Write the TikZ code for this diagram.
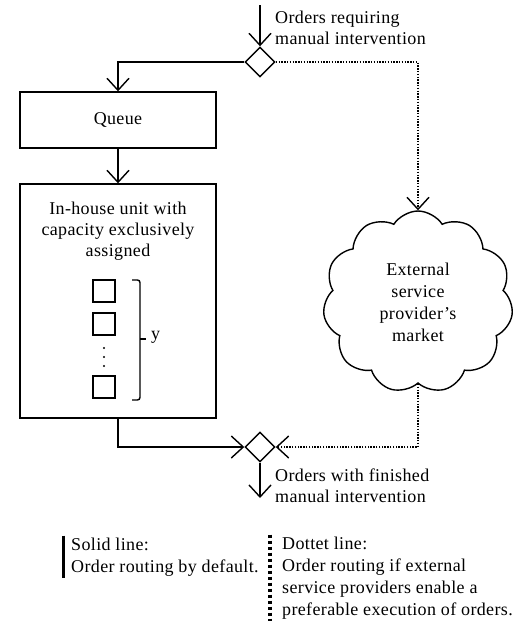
\documentclass[tikz,border=0pt]{standalone}
\usepackage{fontspec}
\setmainfont{Liberation Serif}[LetterSpace=2]
\usetikzlibrary{arrows.meta,shapes.geometric,shapes.symbols,calc}

\tikzset{
  box/.style={draw,line width=1.4pt,minimum width=196pt,inner sep=0pt},
  gate/.style={draw,diamond,line width=1.4pt,minimum width=30pt,minimum height=30pt,inner sep=0pt},
  slot/.style={draw,line width=1.4pt,minimum size=22pt,inner sep=0pt},
  flow/.style={line width=1.4pt,-{Straight Barb[length=12pt,width=22pt]}},
  extflow/.style={line width=1.4pt,dash pattern=on 1.4pt off 1.4pt,-{Straight Barb[length=12pt,width=22pt]}},
  txt/.style={align=left,inner sep=0pt,font=\fontsize{18}{21}\selectfont},
}

\begin{document}
\begin{tikzpicture}[x=1pt,y=-1pt]
\useasboundingbox (0,0) rectangle (515,622);

% decision points and boxes
\coordinate (inorders) at (260,5);
\node[gate] (dtop) at (260,62) {};
\node[box,minimum height=56pt,txt] (queue) at (118,120) {Queue};
\node[box,minimum height=234pt] (inhouse) at (118,301) {};
\node[txt,align=center,anchor=north] (inhousetxt) at (118,202) {In-house unit with\\capacity exclusively\\assigned};
\node[gate] (dbot) at (260,447) {};
\coordinate (outorders) at (260,498);

% capacity units
\node[slot] (sq1) at (104,291) {};
\node[slot] (sq2) at (104,324) {};
\node[slot] (sq3) at (104,387) {};
\foreach \yy in {348,357,366}
  \fill (104,\yy) circle (1.1pt);
\draw[line width=1.4pt,rounded corners=2.5pt] (132,280) -- (140,280) -- (140,400) -- (132,400);
\draw[line width=1.4pt] (140,339) -- (146,339);
\node[txt,anchor=west] (ycap) at (151,337) {y};

% external market
\node[draw,cloud,cloud puffs=11,cloud puff arc=115,minimum width=190pt,minimum height=182pt,
  line width=1.4pt,txt,align=center,font=\fontsize{18}{22}\selectfont] (market) at (418,302)
  {External\\service\\provider’s\\market};

% labels
\node[txt,anchor=west] (intxt) at (275,28) {Orders requiring\\manual intervention};
\node[txt,anchor=west] (outtxt) at (275,486) {Orders with finished\\manual intervention};

% routing
\draw[flow] (inorders) -- (dtop.north);
\draw[flow] (dtop.west) -| (queue.north);
\draw[flow] (queue.south) -- (inhouse.north);
\draw[flow] (inhouse.south) |- (dbot.west);
\draw[flow] (dbot.south) -- (outorders);
\draw[extflow] (dtop.east) -| (market.north);
\draw[extflow] (market.south) |- (dbot.east);

% legend
\node[txt,anchor=west,font=\fontsize{18}{22}\selectfont] (solidtxt) at (71,557) {Solid line:\\Order routing by default.};
\node[txt,anchor=west,font=\fontsize{18}{22}\selectfont] (dottxt) at (282,578) {Dottet line:\\Order routing if external\\service providers enable a\\preferable execution of orders.};
\draw[line width=3pt] ($(solidtxt.north west)+(-8,-2)$) -- ($(solidtxt.south west)+(-8,2)$);
\draw[line width=3.5pt,dash pattern=on 3pt off 3pt] ($(dottxt.north west)+(-12,-2)$) -- ($(dottxt.south west)+(-12,2)$);
\end{tikzpicture}
\end{document}
